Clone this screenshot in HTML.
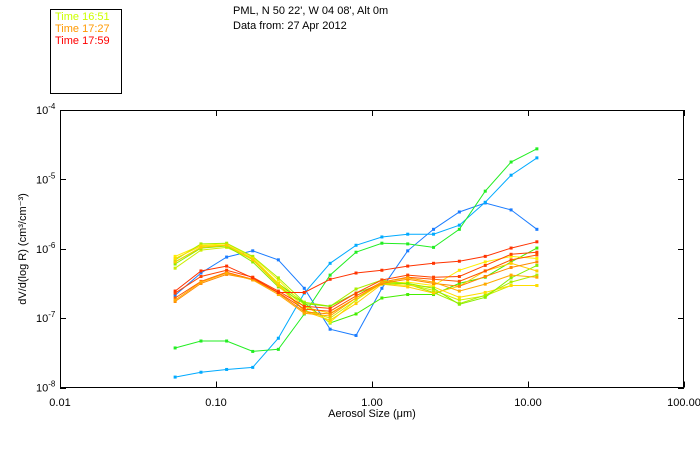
<!DOCTYPE html>
<html><head><meta charset="utf-8"><style>
body{margin:0;background:#fff;width:700px;height:450px;overflow:hidden;font-family:"Liberation Sans",sans-serif}
svg text{font-family:"Liberation Sans",sans-serif;font-size:11px}
</style></head><body>
<svg id="chart" width="700" height="450">
<rect x="50.5" y="9.5" width="71" height="84" fill="none" stroke="#000"/>
<g>
<text x="55" y="20" fill="#ccff00">Time 16:51</text>
<text x="55" y="32" fill="#ff9900">Time 17:27</text>
<text x="55" y="44" fill="#ff0000">Time 17:59</text>
</g>
<text x="233" y="14">PML, N 50 22', W 04 08', Alt 0m</text>
<text x="233" y="29">Data from: 27 Apr 2012</text>
<rect x="60.5" y="110.5" width="623" height="277" fill="none" stroke="#000"/>
<g id="axes"></g>
<g id="series"></g>
<text x="372" y="417" text-anchor="middle">Aerosol Size (μm)</text>
<text transform="translate(26,249) rotate(-90)" text-anchor="middle">dV/d(log R) (cm³/cm⁻³)</text>
</svg>
<script>
const sizes=[0.0547,0.0801,0.117,0.172,0.251,0.368,0.539,0.790,1.157,1.694,2.48,3.63,5.32,7.79,11.4];
const xTicks=[0.01,0.1,1,10,100];
const xTickLabels=["0.01","0.10","1.00","10.00","100.00"];
const yTickExps=[-4,-5,-6,-7,-8];
const seriesColors=["#1a7cff","#00aaff","#22ee22","#ff3300","#44ee00","#ff5500","#ff4400","#ff8800","#ffaa00","#ffee00","#ccee00","#aaee00","#ffdd00","#88ee00","#ffcc00"];
const s0=[-6.67,-6.35,-6.12,-6.03,-6.16,-6.57,-7.16,-7.25,-6.57,-6.03,-5.72,-5.47,-5.34,-5.44,-5.72];
const s1=[-7.85,-7.78,-7.74,-7.71,-7.29,-6.64,-6.21,-5.95,-5.83,-5.79,-5.79,-5.66,-5.33,-4.94,-4.69];
const s2=[-7.43,-7.33,-7.33,-7.48,-7.45,-6.94,-6.38,-6.05,-5.92,-5.93,-5.98,-5.72,-5.17,-4.75,-4.56];
const s3=[-6.61,-6.32,-6.25,-6.42,-6.63,-6.63,-6.44,-6.35,-6.31,-6.25,-6.21,-6.18,-6.11,-5.99,-5.90];
const s4=[-6.19,-5.98,-5.95,-6.14,-6.50,-6.78,-7.07,-6.94,-6.71,-6.66,-6.66,-6.50,-6.41,-6.19,-5.99];
const s5=[-6.71,-6.47,-6.34,-6.44,-6.63,-6.87,-6.90,-6.68,-6.48,-6.41,-6.44,-6.47,-6.32,-6.16,-6.09];
const s6=[-6.64,-6.40,-6.31,-6.41,-6.61,-6.83,-6.86,-6.64,-6.45,-6.38,-6.41,-6.40,-6.24,-6.08,-6.05];
const s7=[-6.76,-6.50,-6.37,-6.44,-6.64,-6.91,-6.94,-6.71,-6.50,-6.44,-6.50,-6.54,-6.40,-6.27,-6.19];
const s8=[-6.74,-6.48,-6.35,-6.45,-6.66,-6.93,-6.97,-6.71,-6.48,-6.42,-6.48,-6.61,-6.51,-6.38,-6.41];
const s9=[-6.11,-5.95,-5.93,-6.12,-6.45,-6.81,-7.06,-6.74,-6.50,-6.48,-6.53,-6.31,-6.19,-6.11,-6.14];
const s10=[-6.28,-6.02,-5.98,-6.15,-6.51,-6.89,-7.00,-6.74,-6.47,-6.51,-6.60,-6.74,-6.68,-6.53,-6.53];
const s11=[-6.16,-5.93,-5.92,-6.11,-6.42,-6.77,-6.83,-6.58,-6.45,-6.51,-6.63,-6.79,-6.67,-6.48,-6.38];
const s12=[-6.14,-5.96,-5.95,-6.14,-6.50,-6.84,-6.93,-6.71,-6.50,-6.53,-6.55,-6.70,-6.63,-6.53,-6.53];
const s13=[-6.22,-5.99,-5.96,-6.19,-6.55,-6.79,-6.83,-6.64,-6.51,-6.50,-6.57,-6.80,-6.70,-6.42,-6.24];
const s14=[-6.19,-5.98,-5.95,-6.16,-6.53,-6.90,-7.03,-6.79,-6.51,-6.55,-6.64,-6.54,-6.32,-6.21,-6.32];
const allSeries=[s0,s1,s2,s4,s9,s10,s11,s12,s13,s14,s5,s6,s7,s8,s3];
const drawColors=[seriesColors[0],seriesColors[1],seriesColors[2],seriesColors[4],seriesColors[9],seriesColors[10],seriesColors[11],seriesColors[12],seriesColors[13],seriesColors[14],seriesColors[5],seriesColors[6],seriesColors[7],seriesColors[8],seriesColors[3]];
const NS="http://www.w3.org/2000/svg";
const X0=60,X1=684,Y0=110,Y1=387.5;
function xs(v){return X0+(Math.log10(v)+2)/4*(X1-X0);}
function ys(lg){return Y0+(-4-lg)/4*(Y1-Y0);}
function mk(tag,attrs,parent){const e=document.createElementNS(NS,tag);for(const k in attrs)e.setAttribute(k,attrs[k]);parent.appendChild(e);return e;}
const ax=document.getElementById('axes');
xTicks.forEach((t,i)=>{
 const x=Math.round(xs(t))+0.5;
 const tb=mk('line',{x1:x,x2:x,y1:Y1,y2:Y1-6,stroke:'#000'},ax);
 
 
 const tt=mk('line',{x1:x,x2:x,y1:Y0,y2:Y0+6,stroke:'#000'},ax);
 
 
 const lb=mk('text',{x:xs(t),y:406,'text-anchor':'middle'},ax);
 lb.textContent=xTickLabels[i];
 
 
});
yTickExps.forEach(e=>{
 const y=Math.round(ys(e))+0.5;
 const tl=mk('line',{x1:X0,x2:X0+6,y1:y,y2:y,stroke:'#000'},ax);
 
 
 const tr=mk('line',{x1:X1-6,x2:X1,y1:y,y2:y,stroke:'#000'},ax);
 
 
 const lb=mk('text',{x:36,y:ys(e)+4},ax);
 lb.innerHTML='10<tspan dy="-5" font-size="8">'+e+'</tspan>';
 
 
});
const sg=document.getElementById('series');
allSeries.forEach((s,k)=>{
 const c=drawColors[k];
 const g=mk('g',{},sg);
 
 
 const pts=s.map((v,i)=>xs(sizes[i]).toFixed(1)+','+ys(v).toFixed(1)).join(' ');
 const pl=mk('polyline',{points:pts,fill:'none',stroke:c,'stroke-width':1},g);
 
 
 s.forEach((v,i)=>{
  const r=mk('rect',{x:xs(sizes[i])-1.5,y:ys(v)-1.5,width:3,height:3,fill:c},g);
  
  
 });
});
</script>
</body></html>
